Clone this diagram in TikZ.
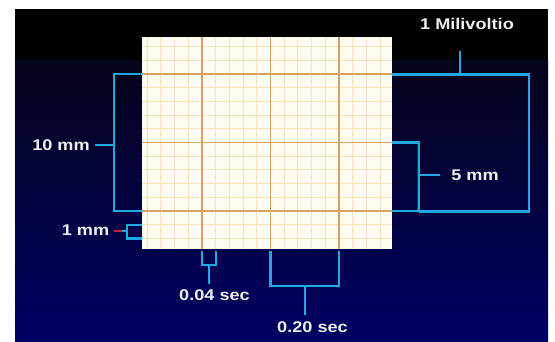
\documentclass[tikz,border=0pt]{standalone}
\usepackage{fontspec}
\setmainfont{Liberation Sans}[FakeStretch=1.17]
\definecolor{bracketblue}{HTML}{1FA8E2}
\definecolor{markred}{HTML}{C8203C}
\definecolor{labelwhite}{HTML}{EEEEEE}
\definecolor{paper}{HTML}{FFFCF2}
\definecolor{minorline}{HTML}{FCE2BC}
\definecolor{majorline}{HTML}{D9A064}
\definecolor{nighttop}{HTML}{04041A}
\definecolor{nightbottom}{HTML}{000064}
\tikzset{
	bracket/.style={draw=bracketblue, line width=2.2pt},
	marker/.style={draw=markred, line width=1.2pt},
	minor/.style={draw=minorline, line width=0.9pt},
	major/.style={draw=majorline, line width=1.3pt},
	lbl/.style={text=labelwhite, font=\bfseries\fontsize{15.5}{17}\selectfont, inner sep=3pt},
}
\begin{document}
\begin{tikzpicture}[x=1pt, y=-1pt]
	% frame
	\useasboundingbox (0,0) rectangle (555,341);
	\fill[white] (0,0) rectangle (555,341);
	\fill[black] (15,9) rectangle (548,60);
	\shade[top color=nighttop, bottom color=nightbottom] (15,60) rectangle (548,341);

	% paper grid
	\fill[paper] (142,37) rectangle (392,249);
	\foreach \i in {-4, ..., 13}
		\draw[minor] ({202+13.7*\i}, 37) -- ({202+13.7*\i}, 249);
	\foreach \j in {-12, ..., 2}
		\draw[minor] (142, {211+13.7*\j}) -- (392, {211+13.7*\j});
	\foreach \i in {0, 5, 10}
		\draw[major] ({202+13.7*\i}, 37) -- ({202+13.7*\i}, 249);
	\foreach \j in {-10, -5, 0}
		\draw[major] (142, {211+13.7*\j}) -- (392, {211+13.7*\j});

	% labels
	\node[lbl] (milivoltio) at (467, 23.5) {1 Milivoltio};
	\node[lbl] (tenmm) at (61, 145) {10 mm};
	\node[lbl] (onemm) at (85.5, 230) {1 mm};
	\node[lbl] (fivemm) at (475, 175) {5 mm};
	\node[lbl] (smallsec) at (214.5, 295) {0.04 sec};
	\node[lbl] (bigsec) at (312.5, 327.5) {0.20 sec};

	% 10 mm
	\coordinate (ten-a) at (142, 74);
	\coordinate (ten-b) at (114, 74);
	\coordinate (ten-c) at (114, 211);
	\coordinate (ten-d) at (142, 211);
	\draw[bracket] (ten-a) -- (ten-b) -- (ten-c) -- (ten-d);
	\draw[bracket, shorten <=2pt] (tenmm) -- (tenmm -| ten-b);

	% 1 mm
	\coordinate (one-a) at (142, 224.7);
	\coordinate (one-b) at (127, 224.7);
	\coordinate (one-c) at (127, 238.4);
	\coordinate (one-d) at (142, 238.4);
	\coordinate (one-r) at (122, 231);
	\draw[bracket] (one-a) -- (one-b) -- (one-c) -- (one-d);
	\draw[marker, shorten <=2pt] (onemm.east |- one-r) -- (one-r);
	\draw[bracket] (one-r) -- (one-r -| one-b);

	% 1 Milivoltio
	\coordinate (mv-a) at (392, 74.5);
	\coordinate (mv-b) at (529, 74.5);
	\coordinate (mv-c) at (529, 211.5);
	\coordinate (mv-d) at (419, 211.5);
	\coordinate (mv-m) at (460, 74.5);
	\coordinate (mv-t) at (460, 51);
	\draw[bracket] (mv-a) -- (mv-b) -- (mv-c) -- (mv-d);
	\draw[bracket] (mv-m) -- (mv-t);

	% 5 mm
	\coordinate (five-a) at (392, 142.5);
	\coordinate (five-b) at (419, 142.5);
	\coordinate (five-c) at (419, 211);
	\coordinate (five-d) at (392, 211);
	\draw[marker, draw=markred!55!black, line width=0.6pt] (416.8, 143.5) -- (416.8, 210);
	\draw[bracket] (five-a) -- (five-b) -- (five-c) -- (five-d);
	\draw[bracket, shorten >=8pt] (five-b |- fivemm) -- (fivemm);

	% 0.04 sec
	\coordinate (small-a) at (202, 251);
	\coordinate (small-b) at (202, 265);
	\coordinate (small-c) at (215.7, 265);
	\coordinate (small-d) at (215.7, 251);
	\coordinate (small-m) at (208.85, 265);
	\draw[bracket] (small-a) -- (small-b) -- (small-c) -- (small-d);
	\draw[bracket, shorten >=2pt] (small-m) -- (small-m |- smallsec.north);

	% 0.20 sec
	\coordinate (big-a) at (270.5, 251);
	\coordinate (big-b) at (270.5, 286);
	\coordinate (big-c) at (339, 286);
	\coordinate (big-d) at (339, 251);
	\coordinate (big-m) at (305, 286);
	\draw[bracket] (big-a) -- (big-b) -- (big-c) -- (big-d);
	\draw[bracket, shorten >=4pt] (big-m) -- (big-m |- bigsec.north);
\end{tikzpicture}
\end{document}
